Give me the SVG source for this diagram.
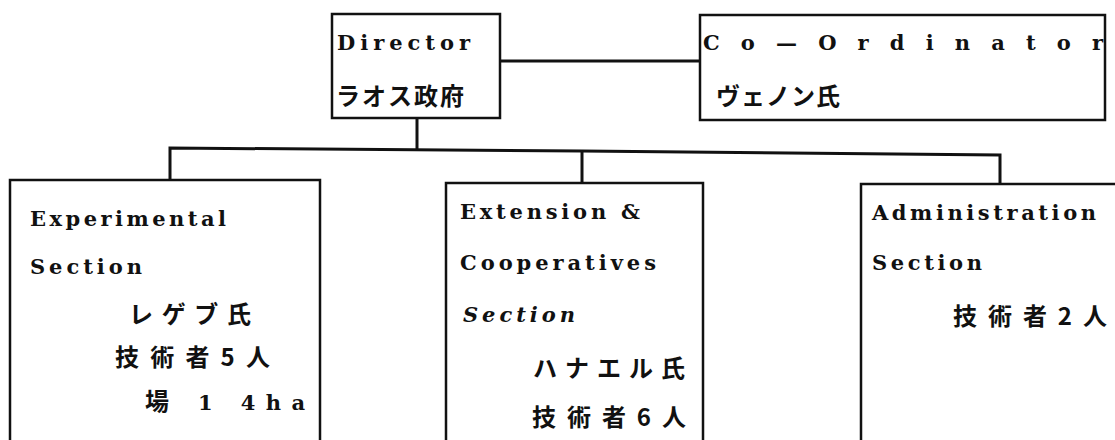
<svg xmlns="http://www.w3.org/2000/svg" width="1115" height="440" viewBox="0 0 1115 440">
<style>
.box{fill:#fff;stroke:#111;stroke-width:2.5}
.ln{fill:none;stroke:#111;stroke-width:3}
.t{font-family:"DejaVu Serif","Noto Sans CJK JP",serif;font-weight:bold;font-size:21px;fill:#111}
.j{font-family:"Noto Sans CJK JP",sans-serif;font-weight:bold;font-size:24px;fill:#111}
</style>
<rect width="1115" height="440" fill="#fff"/>
<g id="connectors">
<path class="ln" d="M500 61 H701"/>
<path class="ln" d="M417 118 V149"/>
<path class="ln" d="M170 181 V148 L582 151 L1000 155 V184"/>
<path class="ln" d="M582 151 V183"/>
</g>
<g id="director">
<rect class="box" x="332" y="14" width="168" height="104"/>
<text class="t" x="337" y="50" textLength="133" lengthAdjust="spacing">Director</text>
<text class="j" x="336" y="105" textLength="128" lengthAdjust="spacing">ラオス政府</text>
</g>
<g id="coordinator">
<rect class="box" x="700" y="15" width="405" height="105"/>
<text class="t" x="703" y="50" textLength="400" lengthAdjust="spacing">Co—Ordinator</text>
<text class="j" x="716" y="105" textLength="124" lengthAdjust="spacing">ヴェノン氏</text>
</g>
<g id="experimental">
<rect class="box" x="10" y="180" width="310" height="280"/>
<text class="t" x="30" y="226" textLength="196" lengthAdjust="spacing">Experimental</text>
<text class="t" x="30" y="274" textLength="112" lengthAdjust="spacing">Section</text>
<text class="j" x="129" y="323" textLength="122" lengthAdjust="spacing">レゲブ氏</text>
<text class="j" x="115" y="366" textLength="155" lengthAdjust="spacing">技術者5人</text>
<text class="j" x="145" y="410">場</text>
<text class="t" x="198" y="410" textLength="107" lengthAdjust="spacing">1 4ha</text>
</g>
<g id="extension">
<rect class="box" x="446" y="183" width="257" height="280"/>
<text class="t" x="460" y="219" textLength="180" lengthAdjust="spacing">Extension &amp;</text>
<text class="t" x="460" y="270" textLength="196" lengthAdjust="spacing">Cooperatives</text>
<text class="t" x="463" y="322" textLength="112" lengthAdjust="spacing" font-style="italic">Section</text>
<text class="j" x="533" y="377" textLength="152" lengthAdjust="spacing">ハナエル氏</text>
<text class="j" x="532" y="426" textLength="154" lengthAdjust="spacing">技術者6人</text>
</g>
<g id="administration">
<rect class="box" x="861" y="184" width="270" height="280"/>
<text class="t" x="872" y="220" textLength="224" lengthAdjust="spacing">Administration</text>
<text class="t" x="872" y="270" textLength="110" lengthAdjust="spacing">Section</text>
<text class="j" x="953" y="325" textLength="154" lengthAdjust="spacing">技術者2人</text>
</g>
</svg>
